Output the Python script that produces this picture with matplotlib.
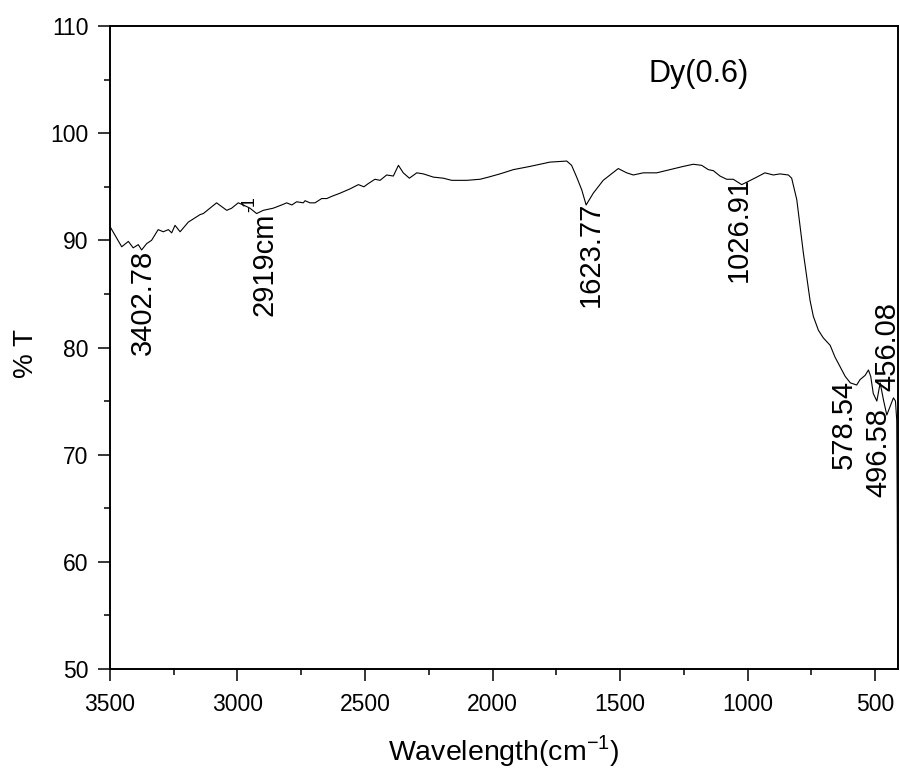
import matplotlib
matplotlib.use("Agg")
import matplotlib.pyplot as plt
from matplotlib.ticker import MultipleLocator

plt.rcParams['font.family'] = ['Liberation Sans', 'DejaVu Sans']
plt.rcParams['mathtext.fontset'] = 'custom'
plt.rcParams['mathtext.rm'] = 'Liberation Sans'

# IR spectrum of Dy(0.6): wavenumber (cm^-1) and transmittance (%)
wavenumber = [3500, 3493, 3454, 3428, 3409, 3389, 3376, 3356, 3337, 3311, 3291,
              3271, 3258, 3245, 3225, 3193, 3160, 3147, 3134, 3108, 3082, 3042,
              3023, 2997, 2977, 2951, 2925, 2899, 2860, 2827, 2807, 2787, 2768,
              2742, 2735, 2716, 2696, 2670, 2650, 2631, 2598, 2559, 2526, 2504,
              2487, 2461, 2441, 2415, 2389, 2369, 2350, 2326, 2297, 2271, 2232,
              2193, 2160, 2101, 2049, 2016, 1971, 1918, 1853, 1775, 1709, 1690,
              1670, 1650, 1633, 1605, 1566, 1507, 1474, 1448, 1409, 1356, 1304,
              1252, 1213, 1180, 1154, 1134, 1108, 1082, 1056, 1023, 997, 964,
              932, 899, 873, 840, 827, 807, 794, 781, 768, 755, 742, 722, 703,
              676, 657, 637, 617, 597, 572, 559, 539, 526, 517, 507, 493, 480,
              467, 454, 441, 428, 420, 415, 413, 411]
transmittance = [91.3, 91.0, 89.4, 89.9, 89.3, 89.6, 89.1, 89.7, 90.0, 91.0, 90.8,
                 91.0, 90.7, 91.4, 90.8, 91.7, 92.2, 92.4, 92.5, 93.0, 93.5, 92.8,
                 93.0, 93.5, 93.3, 93.0, 92.5, 92.8, 93.0, 93.3, 93.5, 93.3, 93.6,
                 93.5, 93.7, 93.5, 93.5, 93.9, 93.9, 94.1, 94.4, 94.8, 95.2, 95.0,
                 95.3, 95.7, 95.6, 96.1, 96.0, 97.0, 96.3, 95.8, 96.3, 96.2, 95.9,
                 95.8, 95.6, 95.6, 95.7, 95.9, 96.2, 96.6, 96.9, 97.3, 97.4, 97.0,
                 95.9, 94.7, 93.3, 94.4, 95.6, 96.7, 96.3, 96.1, 96.3, 96.3, 96.6,
                 96.9, 97.1, 97.0, 96.6, 96.5, 96.0, 95.7, 95.7, 95.2, 95.5, 95.9,
                 96.3, 96.1, 96.2, 96.1, 95.8, 93.8, 91.3, 88.8, 86.6, 84.4, 82.9,
                 81.6, 80.9, 80.2, 79.1, 78.2, 77.3, 76.7, 76.5, 77.0, 77.4, 77.9,
                 77.3, 75.7, 75.0, 76.7, 75.1, 73.7, 74.5, 75.3, 75.0, 73.2, 64.6,
                 50.0]

# Peak annotations: text, x position, y position (top of rotated text)
peak_labels = ["3402.78", "2919cm", "1623.77", "1026.91", "578.54", "496.58", "456.08"]
peak_x = [3371, 2893, 1614, 1033, 622, 488, 453]
peak_y = [89.1, 92.6, 93.6, 95.9, 77.0, 74.4, 84.2]
unit_sup = "-1"
unit_sup_x = 2950
unit_sup_y = 94.1

sample_label = "Dy(0.6)"
x_ticks = [3500, 3000, 2500, 2000, 1500, 1000, 500]
y_ticks = [50, 60, 70, 80, 90, 100, 110]

fig = plt.figure(figsize=(9, 7.7), dpi=100)
ax = fig.add_axes([0.1222, 0.1312, 0.8756, 0.835])
ax.plot(wavenumber, transmittance, color='black', lw=0.8)

ax.set_xlim(3500, 410)
ax.set_ylim(50, 110)
ax.set_xticks(x_ticks)
ax.set_yticks(y_ticks)
ax.xaxis.set_minor_locator(MultipleLocator(250))
ax.yaxis.set_minor_locator(MultipleLocator(5))
ax.tick_params(which='both', direction='out', top=False, right=False,
               labelsize=16.5, width=1.1)
ax.tick_params(axis='x', which='major', length=8.6, pad=9)
ax.tick_params(axis='y', which='major', length=8.6, pad=7)
ax.tick_params(which='minor', length=4.3)
for s in ax.spines.values():
    s.set_linewidth(1.4)

for t, x, y in zip(peak_labels, peak_x, peak_y):
    ax.text(x, y, t, rotation=90, ha='center', va='top', fontsize=21)
ax.text(unit_sup_x, unit_sup_y, unit_sup, rotation=90, ha='center', va='top', fontsize=13)

ax.text(1390, 105.5, sample_label, ha='left', va='center', fontsize=22)

ax.set_xlabel("Wavelength(cm$^{-1}$)", fontsize=20.5, labelpad=12)
ax.set_ylabel("% T", fontsize=20, labelpad=12)
ax.yaxis.set_label_coords(-0.09, 0.49)

fig.savefig("out.png", dpi=100)
